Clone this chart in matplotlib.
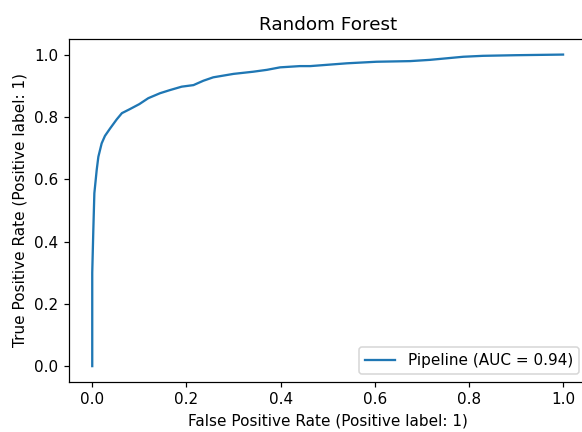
import matplotlib
matplotlib.use("Agg")
from matplotlib import pyplot as plt

# ROC points for the random forest pipeline
fpr = [0.0, 0.0, 0.0023, 0.0045, 0.0095, 0.013, 0.020, 0.027, 0.038, 0.052,
       0.063, 0.080, 0.10, 0.119, 0.144, 0.165, 0.19, 0.215, 0.236, 0.257,
       0.30, 0.342, 0.371, 0.399, 0.441, 0.463, 0.541, 0.604, 0.675, 0.717,
       0.788, 0.83, 0.90, 1.0]
tpr = [0.0, 0.30, 0.437, 0.555, 0.63, 0.672, 0.715, 0.739, 0.763, 0.792,
       0.812, 0.825, 0.841, 0.860, 0.876, 0.886, 0.897, 0.902, 0.916, 0.927,
       0.938, 0.945, 0.951, 0.959, 0.963, 0.963, 0.972, 0.977, 0.979, 0.983,
       0.993, 0.996, 0.998, 1.0]
auc = 0.94

dpi = 110
fig = plt.figure(figsize=(582 / dpi, 432 / dpi), dpi=dpi)
ax = fig.add_axes([68.7 / 582, 1 - 381.7 / 432, (586.6 - 68.7) / 582, (381.7 - 39) / 432])
ax.plot(fpr, tpr, lw=1.5, label="Pipeline (AUC = %.2f)" % auc)
ax.set_xlabel("False Positive Rate (Positive label: 1)")
ax.set_ylabel("True Positive Rate (Positive label: 1)")
ax.set_title("Random Forest")
ax.legend(loc="lower right")

fig.savefig("out.png", dpi=dpi)
